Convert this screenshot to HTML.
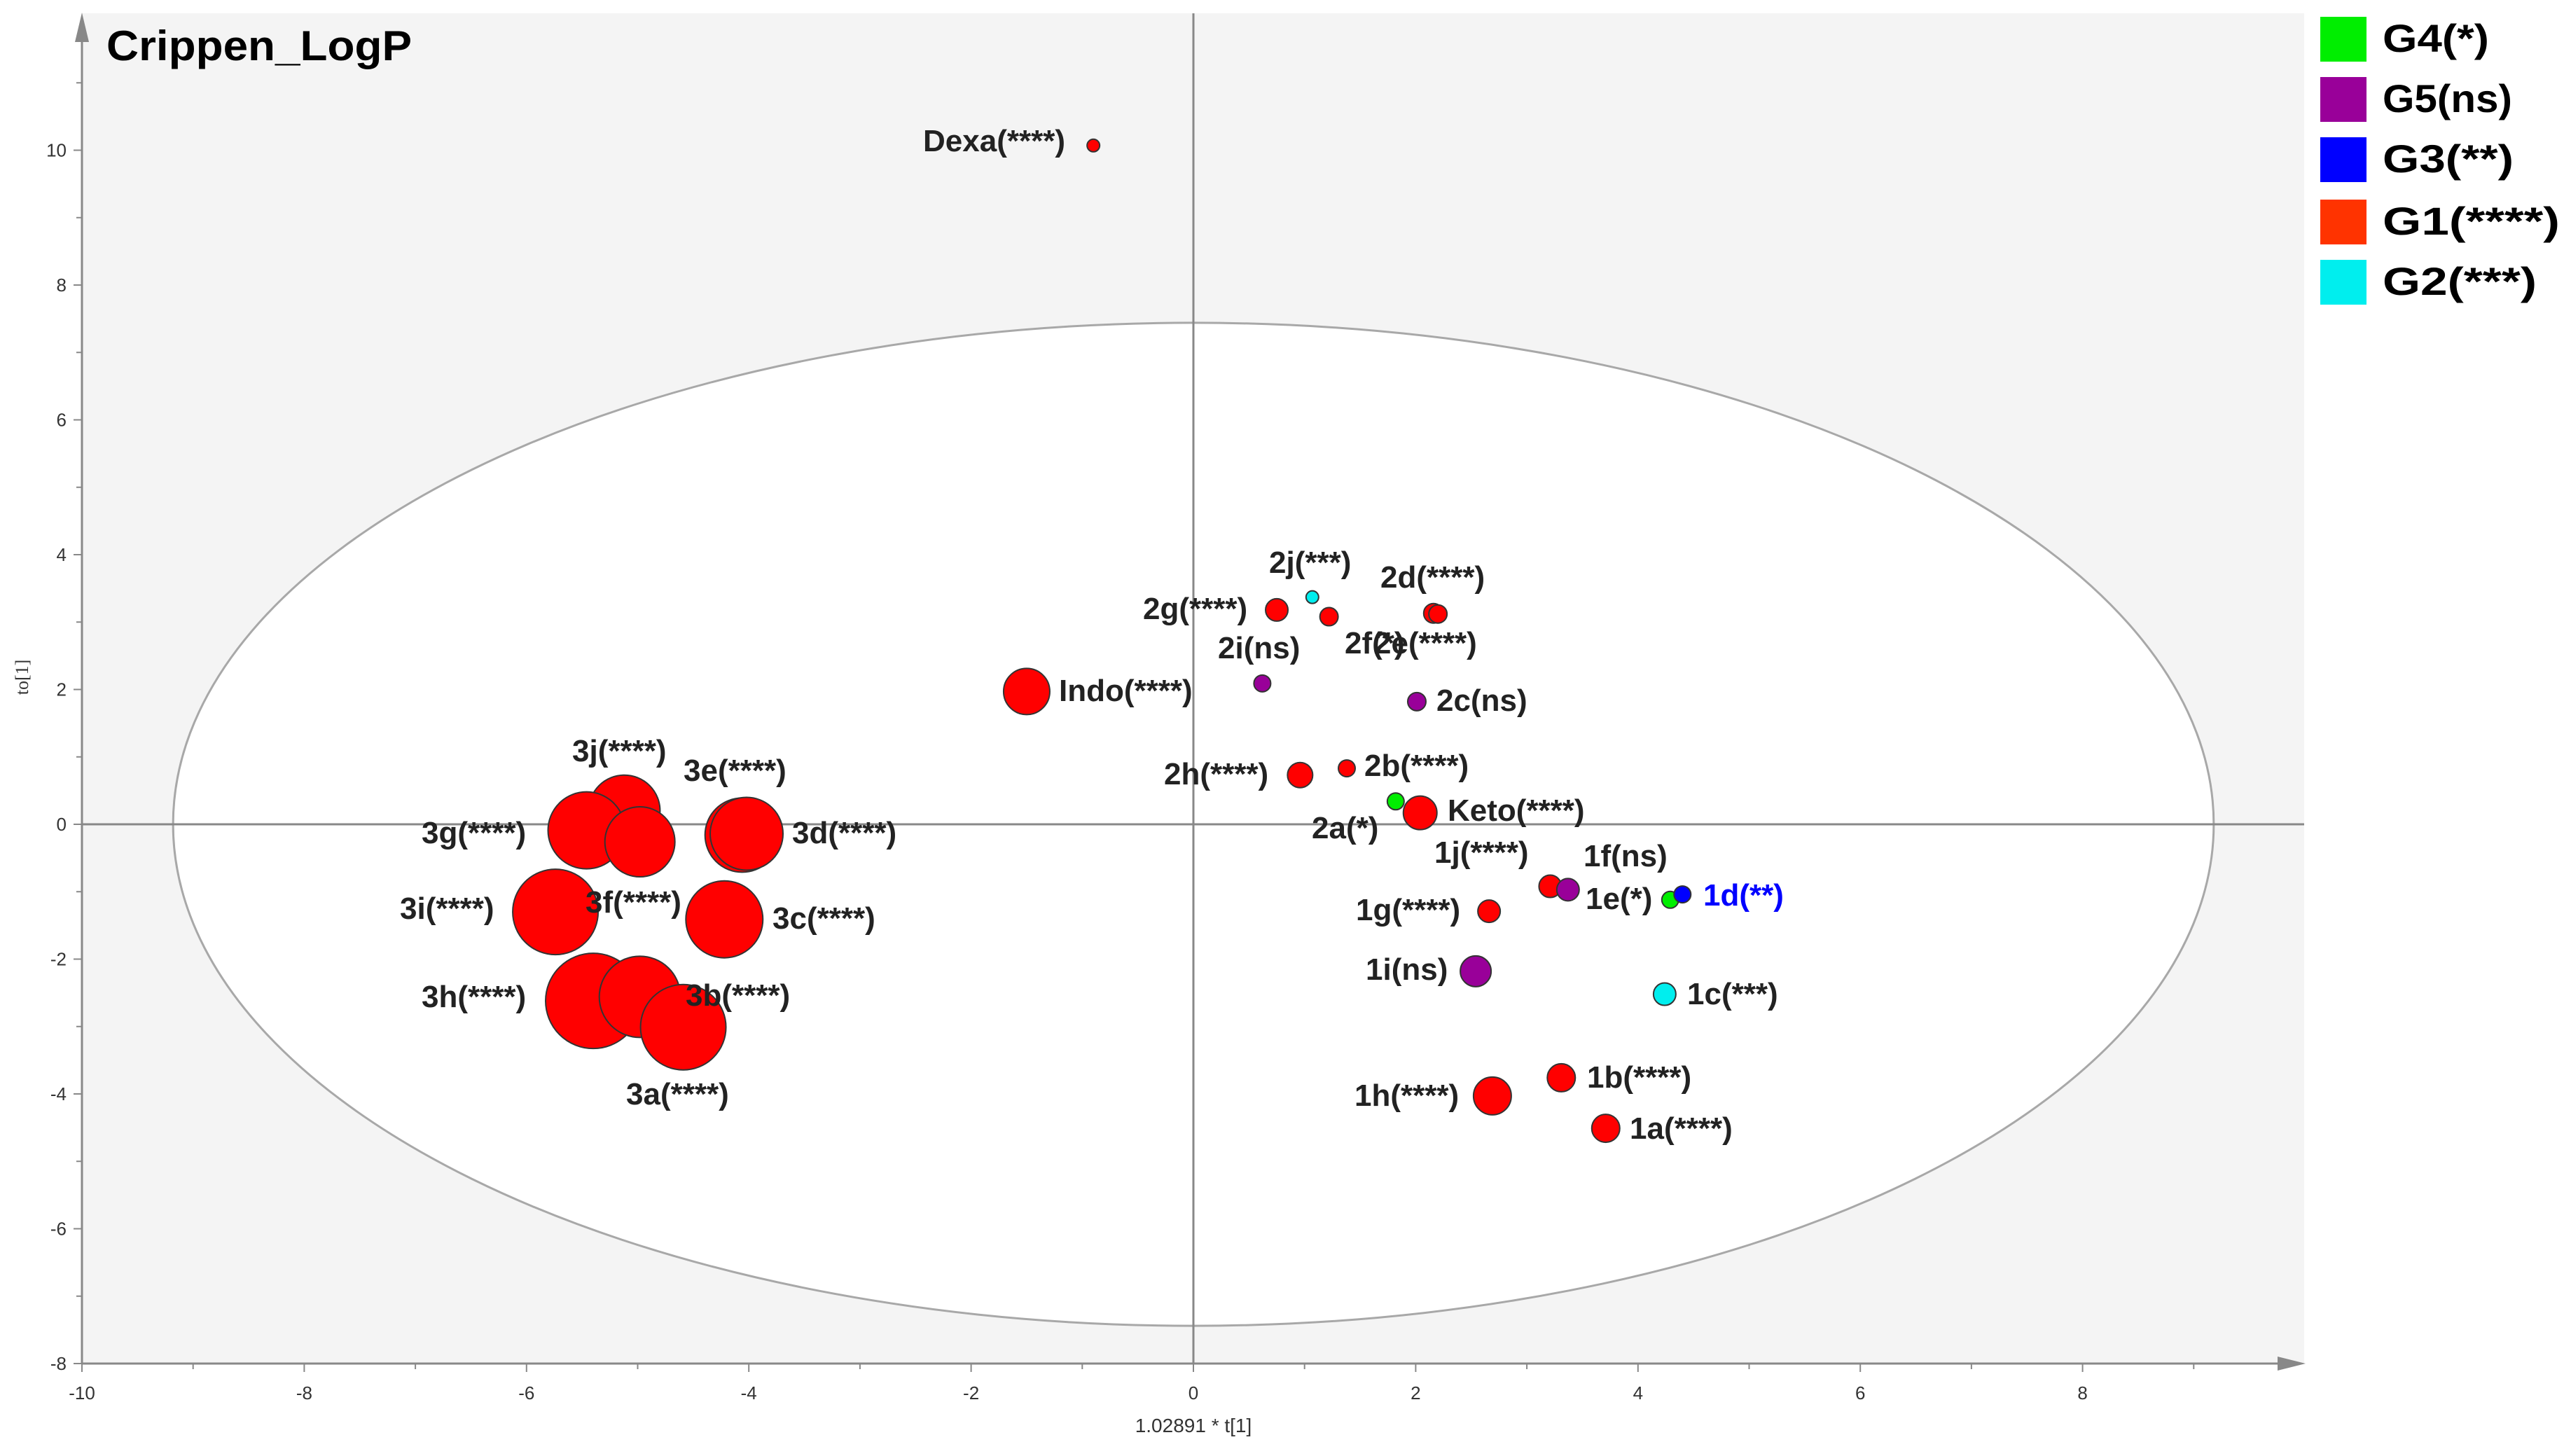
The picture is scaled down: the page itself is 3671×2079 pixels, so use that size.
<!DOCTYPE html>
<html><head><meta charset="utf-8"><style>
html,body{margin:0;padding:0;background:#fff;}
svg{display:block;}
</style></head><body>
<svg id="chart" width="3671" height="2079" viewBox="0 0 3671 2079" xmlns="http://www.w3.org/2000/svg">
<rect x="117" y="19" width="3173" height="1928" fill="#f4f4f4"/>
<g id="ellipse-layer"></g>
<g id="axes"></g>
<g id="points"></g>
<g id="labels"></g>
<text x="152" y="86" font-family="'Liberation Sans',sans-serif" font-weight="bold" font-size="60" textLength="436" lengthAdjust="spacingAndGlyphs" fill="#000">Crippen_LogP</text>
<text x="1704" y="2045" text-anchor="middle" font-family="'Liberation Sans',sans-serif" font-size="28" fill="#333">1.02891 * t[1]</text>
<text x="40" y="967" text-anchor="middle" font-family="'Liberation Serif',serif" font-size="26" fill="#333" transform="rotate(-90 40 967)">to[1]</text>
<g id="legend"></g>
</svg>
<script>
const names = ["Dexa","Indo","2j","2g","2f","2d","2e","2i","2c","2h","2b","2a","Keto","1j","1f","1e","1d","1g","1i","1c","1h","1b","1a","3j","3g","3f","3d","3e","3i","3c","3h","3b","3a"];
const xs = [-0.90,-1.50,1.07,0.75,1.22,2.16,2.20,0.62,2.01,0.96,1.38,1.82,2.04,3.21,3.37,4.29,4.40,2.66,2.54,4.24,2.69,3.31,3.71,-5.12,-5.46,-4.98,-4.06,-4.02,-5.74,-4.22,-5.40,-4.98,-4.59];
const ys = [10.07,1.97,3.37,3.18,3.08,3.13,3.12,2.09,1.82,0.73,0.83,0.34,0.17,-0.92,-0.97,-1.12,-1.04,-1.29,-2.18,-2.52,-4.03,-3.76,-4.51,0.20,-0.09,-0.26,-0.16,-0.14,-1.30,-1.41,-2.62,-2.56,-3.01];
const groups = ["G1","G1","G2","G1","G1","G1","G1","G5","G5","G1","G1","G4","G1","G1","G5","G4","G3","G1","G5","G2","G1","G1","G1","G1","G1","G1","G1","G1","G1","G1","G1","G1","G1"];
const sizes = [9,33,9,16,13,14,13,12,13,18,12,12,24,16,16,12,12,16,22,16,27,20,20,51,55,50,53,52,61,55,68,58,61];
const labelTexts = ["Dexa(****)","Indo(****)","2j(***)","2g(****)","2f(*)","2d(****)","2e(****)","2i(ns)","2c(ns)","2h(****)","2b(****)","2a(*)","Keto(****)","1j(****)","1f(ns)","1e(*)","1d(**)","1g(****)","1i(ns)","1c(***)","1h(****)","1b(****)","1a(****)","3j(****)","3g(****)","3f(****)","3d(****)","3e(****)","3i(****)","3c(****)","3h(****)","3b(****)","3a(****)"];
const legendNames = ["G4(*)","G5(ns)","G3(**)","G1(****)","G2(***)"];
const legendKeys = ["G4","G5","G3","G1","G2"];
const xTicks = [-10,-8,-6,-4,-2,0,2,4,6,8];
const yTicks = [-8,-6,-4,-2,0,2,4,6,8,10];
const ellipseRx = 9.18, ellipseRy = 7.44;

// layout (pixel anchors / widths, not data)
const labelLayout = [[1318,201],[1512,986],[1812,803],[1632,869],[1920,918],[1971,824],[1962,918],[1739,925],[2051,1000],[1662,1105],[1948,1093],[1873,1182],[2067,1157],[2048,1217],[2261,1222],[2264,1283],[2432,1278],[1936,1299],[1950,1384],[2409,1419],[1934,1564],[2266,1538],[2327,1611],[817,1072],[602,1189],[836,1288],[1131,1189],[976,1100],[571,1297],[1103,1311],[602,1423],[979,1421],[894,1562]];
const legendWidths = [152,185,187,253,220];
const colors = {G1:"#ff0000",G2:"#00eeee",G3:"#0000ff",G4:"#00ee00",G5:"#990099"};
const legendColors = {G1:"#ff3300",G2:"#00eeee",G3:"#0000ff",G4:"#00ee00",G5:"#990099"};

const NS = "http://www.w3.org/2000/svg";
const X0 = 1704, XU = 158.7, Y0 = 1177, YU = 96.25;
function sx(v){ return X0 + v*XU; }
function sy(v){ return Y0 - v*YU; }
function mk(tag, attrs, parent){ const e=document.createElementNS(NS,tag); for(const k in attrs) e.setAttribute(k,attrs[k]); parent.appendChild(e); return e; }

const el = document.getElementById("ellipse-layer");
const ell = mk("ellipse",{cx:sx(0),cy:sy(0),rx:ellipseRx*XU,ry:ellipseRy*YU,fill:"#fff",stroke:"#a8a8a8","stroke-width":3},el);



const ax = document.getElementById("axes");
const zx = mk("line",{x1:117,y1:sy(0),x2:3290,y2:sy(0),stroke:"#888","stroke-width":3},ax);


const zy = mk("line",{x1:sx(0),y1:19,x2:sx(0),y2:1947,stroke:"#888","stroke-width":3},ax);


const xa = mk("line",{x1:117,y1:1947,x2:3260,y2:1947,stroke:"#888","stroke-width":3},ax);


const xarr = mk("polygon",{points:"3252,1937 3292,1947 3252,1957",fill:"#888"},ax);


const ya = mk("line",{x1:117,y1:50,x2:117,y2:1947,stroke:"#888","stroke-width":3},ax);


const yarr = mk("polygon",{points:"107,60 117,18 127,60",fill:"#888"},ax);



for(let v=-10; v<=9; v++){
  const t = mk("line",{x1:sx(v),y1:1947,x2:sx(v),y2:1947+(v%2===0?12:8),stroke:"#888","stroke-width":2},ax);
  
  
}
xTicks.forEach(v=>{
  const t = mk("text",{x:sx(v),y:1998,"text-anchor":"middle","font-family":"'Liberation Sans',sans-serif","font-size":26,fill:"#333"},ax);
  t.textContent = String(v);
  
  
});
for(let v=-8; v<=11; v++){
  const t = mk("line",{x1:117-(v%2===0?12:8),y1:sy(v),x2:117,y2:sy(v),stroke:"#888","stroke-width":2},ax);
  
  
}
yTicks.forEach(v=>{
  const t = mk("text",{x:95,y:sy(v)+9,"text-anchor":"end","font-family":"'Liberation Sans',sans-serif","font-size":26,fill:"#333"},ax);
  t.textContent = String(v);
  
  
});

const pg = document.getElementById("points");
names.forEach((n,i)=>{
  const c = mk("circle",{cx:sx(xs[i]),cy:sy(ys[i]),r:sizes[i],fill:colors[groups[i]],stroke:"#333","stroke-width":2},pg);
  
  
});

const lg = document.getElementById("labels");
names.forEach((n,i)=>{
  const t = mk("text",{x:labelLayout[i][0],y:labelLayout[i][1]+15,"font-family":"'Liberation Sans',sans-serif","font-weight":"bold","font-size":44,fill:(n==="1d"?"#0000ff":"#222")},lg);
  t.textContent = labelTexts[i];
  
  
});

const leg = document.getElementById("legend");
const legY = [24,110,196,285,371];
legendKeys.forEach((k,i)=>{
  const r = mk("rect",{x:3313,y:legY[i],width:66,height:64,fill:legendColors[k]},leg);
  
  
  const t = mk("text",{x:3402,y:legY[i]+50,"font-family":"'Liberation Sans',sans-serif","font-weight":"bold","font-size":56,fill:"#000",textLength:legendWidths[i],lengthAdjust:"spacingAndGlyphs"},leg);
  t.textContent = legendNames[i];
  
  
});
</script>
</body></html>
